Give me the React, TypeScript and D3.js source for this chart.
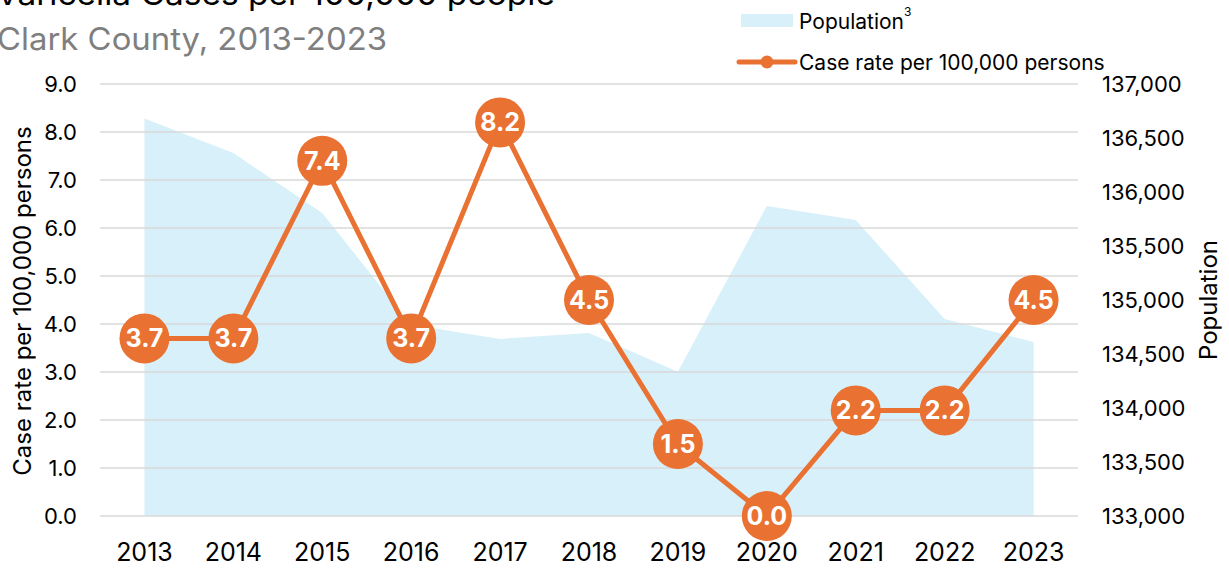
import React from "react";
import * as d3 from "d3";

const years = ["2013","2014","2015","2016","2017","2018","2019","2020","2021","2022","2023"];
const caseRate = [3.7, 3.7, 7.4, 3.7, 8.2, 4.5, 1.5, 0.0, 2.2, 2.2, 4.5];
const population = [136680, 136360, 135805, 134770, 134640, 134695, 134335, 135870, 135740, 134825, 134610];
const leftTicks = [0, 1, 2, 3, 4, 5, 6, 7, 8, 9];
const rightTicks = [133000, 133500, 134000, 134500, 135000, 135500, 136000, 136500, 137000];

const W = 1229;
const H = 569;
const FONT = "Inter, 'Liberation Sans', sans-serif";
const ORANGE = "#E97132";
const AREA = "#D7F0F9";

export default function App() {
  const x = d3.scaleBand().domain(years).range([100, 1078]);
  const cx = (y: string) => (x(y) as number) + x.bandwidth() / 2;
  const yL = d3.scaleLinear().domain([0, 9]).range([516, 84]);
  const yR = d3.scaleLinear().domain([133000, 137000]).range([516, 84]);

  const area = d3
    .area<number>()
    .x((_, i) => cx(years[i]))
    .y0(yR(133000))
    .y1((d) => yR(d));
  const line = d3
    .line<number>()
    .x((_, i) => cx(years[i]))
    .y((d) => yL(d));

  const fmt = d3.format(",");

  return (
    <svg width={W} height={H} style={{ position: "absolute", left: 0, top: 0, background: "#fff" }} fontFamily={FONT}>
      <text x={-4} y={5} textAnchor="start" fontSize={31} fill="#000" textLength={559} lengthAdjust="spacingAndGlyphs">Varicella Cases per 100,000 people</text>
      <text x={-3} y={50} textAnchor="start" fontSize={31} fill="#7f7f7f" textLength={390} lengthAdjust="spacingAndGlyphs">Clark County, 2013-2023</text>

      <path d={area(population) || ""} fill={AREA} />

      {leftTicks.map((t) => (
        <line key={t} x1={100} x2={1078} y1={yL(t)} y2={yL(t)} stroke="#d9d9d9" strokeWidth={1.5} />
      ))}

      {leftTicks.map((t) => (
        <text key={t} x={77} y={yL(t)} textAnchor="end" dominantBaseline="central" fontSize={22} fill="#000">
          {t.toFixed(1)}
        </text>
      ))}
      {rightTicks.map((t) => (
        <text key={t} x={1102} y={yR(t)} textAnchor="start" dominantBaseline="central" fontSize={22} fill="#000">
          {fmt(t)}
        </text>
      ))}
      {years.map((yr) => (
        <text key={yr} x={cx(yr)} y={561} textAnchor="middle" fontSize={25} fill="#000">
          {yr}
        </text>
      ))}

      <text transform="translate(22,301) rotate(-90)" textAnchor="middle" dominantBaseline="central" fontSize={24} fill="#000">
        Case rate per 100,000 persons
      </text>
      <text transform="translate(1208,300) rotate(-90)" textAnchor="middle" dominantBaseline="central" fontSize={24} fill="#000">
        Population
      </text>

      <path d={line(caseRate) || ""} fill="none" stroke={ORANGE} strokeWidth={5} strokeLinejoin="round" />
      {caseRate.map((v, i) => (
        <g key={i}>
          <circle cx={cx(years[i])} cy={yL(v)} r={25} fill={ORANGE} />
          <text x={cx(years[i])} y={yL(v)} textAnchor="middle" dominantBaseline="central" fontSize={25} fontWeight="bold" fill="#fff">
            {v.toFixed(1)}
          </text>
        </g>
      ))}

      {/* Legend */}
      <rect x={741} y={14} width={52} height={13} fill={AREA} />
      <text x={799} y={21} dominantBaseline="central" fontSize={21} fill="#000">
        Population<tspan fontSize={12} dy={-10}>3</tspan>
      </text>
      <line x1={739} x2={795} y1={62} y2={62} stroke={ORANGE} strokeWidth={5} strokeLinecap="round" />
      <circle cx={767} cy={62} r={6.5} fill={ORANGE} />
      <text x={799} y={62} dominantBaseline="central" fontSize={21} fill="#000">
        Case rate per 100,000 persons
      </text>
    </svg>
  );
}
